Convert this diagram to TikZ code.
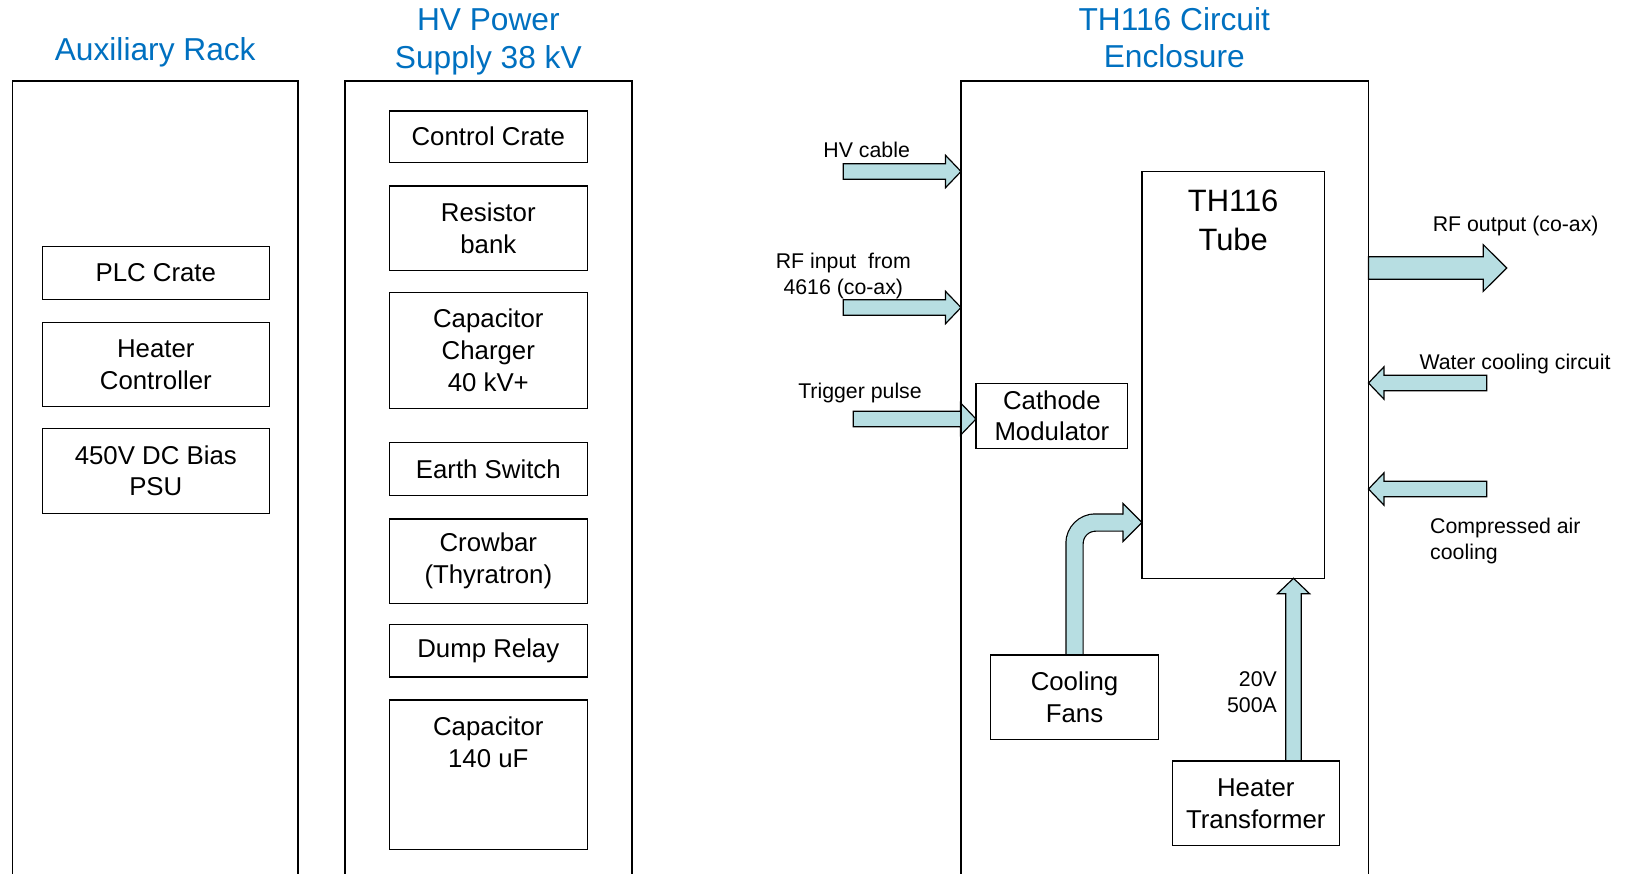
\documentclass[tikz,border=0pt]{standalone}
\usepackage{fontspec}
\setmainfont{Liberation Sans}
\usepackage{tikz}
\usetikzlibrary{positioning, calc, backgrounds}
\definecolor{feedfill}{RGB}{183,222,226}
\definecolor{titleblue}{RGB}{0,112,192}
\newcommand{\unitfont}{\fontsize{25.8}{31.8}\selectfont}
\newcommand{\titlefont}{\fontsize{31.7}{37.5}\selectfont}
\newcommand{\notefont}{\fontsize{21.3}{26}\selectfont}
\newcommand{\tubefont}{\fontsize{30.9}{39}\selectfont}
\tikzset{
  rack/.style={rectangle, draw=black, line width=1.8pt, anchor=north west,
               minimum width=#1, minimum height=900pt, inner sep=0pt, outer sep=0pt},
  unit/.style={rectangle, draw=black, line width=1.5pt, font=\unitfont,
               align=center, inner sep=2pt, outer sep=0pt, minimum width=#1},
  unit/.default=198pt,
  unitlabel/.style={font=\unitfont, align=center, anchor=north, inner sep=0pt},
  title/.style={font=\titlefont, text=titleblue, align=center, inner sep=0pt},
  note/.style={font=\notefont, align=center, inner sep=0pt},
  % block arrow as a closed outline: shaft half width, head half width, head length
  blockarrow/.style n args={3}{draw=black, line width=1.2pt, fill=feedfill,
    to path={let \p1=(\tikztostart), \p2=(\tikztotarget),
      \n1={veclen(\x2-\x1,\y2-\y1)}, \n2={(\x2-\x1)/\n1}, \n3={(\y2-\y1)/\n1} in
      ({\x1-\n3*#1}, {\y1+\n2*#1})
      -- ({\x2-\n2*#3-\n3*#1}, {\y2-\n3*#3+\n2*#1})
      -- ({\x2-\n2*#3-\n3*#2}, {\y2-\n3*#3+\n2*#2})
      -- (\x2,\y2)
      -- ({\x2-\n2*#3+\n3*#2}, {\y2-\n3*#3-\n2*#2})
      -- ({\x2-\n2*#3+\n3*#1}, {\y2-\n3*#3-\n2*#1})
      -- ({\x1+\n3*#1}, {\y1-\n2*#1}) -- cycle}},
  feed/.style={blockarrow={7.7}{16.2}{15.5}},
  pipe/.style={double=feedfill, double distance=16pt, line width=1.2pt,
               rounded corners=21pt},
  pipehead/.style={draw=black, line width=1.2pt, fill=feedfill},
}

\begin{document}
\begin{tikzpicture}[x=1pt, y=-1pt]
  \path[use as bounding box] (0,0) rectangle (1627,873);
  \clip (0,0) rectangle (1627,873);

  %% racks
  \node[rack=285.5pt] (aux)  at (12.5,81) {};
  \node[rack=286.7pt] (hvps) at (345,81) {};
  \node[rack=407.5pt] (encl) at (961,81) {};
  \node[title, above=13.3pt of aux.north]  (auxtitle)  {Auxiliary Rack};
  \node[title, above=6pt of hvps.north]    (hvtitle)   {HV Power\\Supply 38 kV};
  \node[title, above=12.7pt of encl.north, xshift=9.5pt] (encltitle) {TH116 Circuit\\Enclosure};

  %% Auxiliary rack
  \node[unit=227pt, minimum height=52.6pt, anchor=north] (plc) at (155.8,246.7) {PLC Crate};
  \node[unit=227pt, minimum height=84pt, below=23.4pt of plc]     (heatctl) {Heater\\Controller};
  \node[unit=227pt, minimum height=85pt, below=21.6pt of heatctl] (biaspsu) {450V DC Bias\\PSU};

  %% HV power supply
  \node[unit, minimum height=51.3pt, anchor=north] (ctrl) at (488.3,111) {Control Crate};
  \node[unit, minimum height=84.7pt, below=23.7pt of ctrl]     (resbank) {Resistor\\bank};
  \node[unit, minimum height=115.6pt, below=22pt of resbank]   (charger) {Capacitor\\Charger\\40 kV+};
  \node[unit, minimum height=52.6pt, below=34.4pt of charger]  (earth)   {Earth Switch};
  \node[unit, minimum height=84.3pt, below=23.7pt of earth]    (crowbar) {Crowbar\\(Thyratron)};
  \node[unit, minimum height=52.7pt, below=21pt of crowbar]    (dump)    {Dump Relay};
  \node[unit, minimum height=149.3pt, below=23pt of dump,
    label={[unitlabel, yshift=-17pt]north:{Capacitor\\140 uF}}] (capbank) {};

  %% TH116 enclosure
  \node[unit=182.3pt, minimum height=406.6pt, anchor=north west,
    label={[unitlabel, font=\tubefont, yshift=-18.5pt]north:{TH116\\Tube}}] (tube) at (1142,171.7) {};
  \node[unit=151.7pt, minimum height=65pt, anchor=north west]   (cathmod) at (976,383.3)    {Cathode\\Modulator};
  \node[unit=167.6pt, minimum height=84.3pt, anchor=north west] (fans)    at (990.7,655)    {Cooling\\Fans};
  \node[unit=167pt, minimum height=84.7pt, anchor=north west]   (heattx)  at (1172.3,761)   {Heater\\Transformer};

  %% feed labels
  \node[note] (hvlbl)    at (866.7,150)  {HV cable};
  \node[note] (rfinlbl)  at (843.3,276)  {RF input~ from\\4616 (co-ax)};
  \node[note] (triglbl)  at (860,393)    {Trigger pulse};
  \node[note] (rfoutlbl) at (1515.7,226) {RF output (co-ax)};
  \node[note] (waterlbl) at (1515,364)   {Water cooling circuit};
  \node[note, align=left, anchor=west]  (airlbl)  at (1430,540.5) {Compressed air\\cooling};
  \node[note, align=right, anchor=east] (heatlbl) at (1277,692)   {20V\\500A};

  %% feeds
  \coordinate (hvin)    at (843.3,171.5);
  \coordinate (rfin)    at (843.3,307.5);
  \coordinate (trigin)  at (853.3,419);
  \coordinate (rfout)   at (1506.7,268);
  \coordinate (waterin) at (1486.7,383);
  \coordinate (airin)   at (1486.7,489);
  \coordinate (heatin)  at ([xshift=37.7pt]heattx.north);
  \coordinate (fanport) at ([yshift=-147.5pt]tube.west);
  \begin{scope}[on background layer]
    \draw[feed] (hvin) to (hvin -| encl.west);
    \draw[feed] (rfin) to (rfin -| encl.west);
    \draw[feed] (trigin) to (trigin -| cathmod.west);
    \draw[blockarrow={11.3}{23.3}{23.4}] (rfout -| encl.east) to (rfout);
    \draw[feed] (waterin) to (waterin -| encl.east);
    \draw[feed] (airin) to (airin -| encl.east);
    \draw[feed] (heatin) to (heatin |- tube.south);
    \draw[pipe] (fans.north) |- ([xshift=-19pt]fanport);
    \draw[pipehead] ([shift={(-19pt,-8pt)}]fanport) -- ++(0,-11pt) -- (fanport)
      -- ([shift={(-19pt,19pt)}]fanport) -- ++(0,-11pt);
  \end{scope}
\end{tikzpicture}
\end{document}
